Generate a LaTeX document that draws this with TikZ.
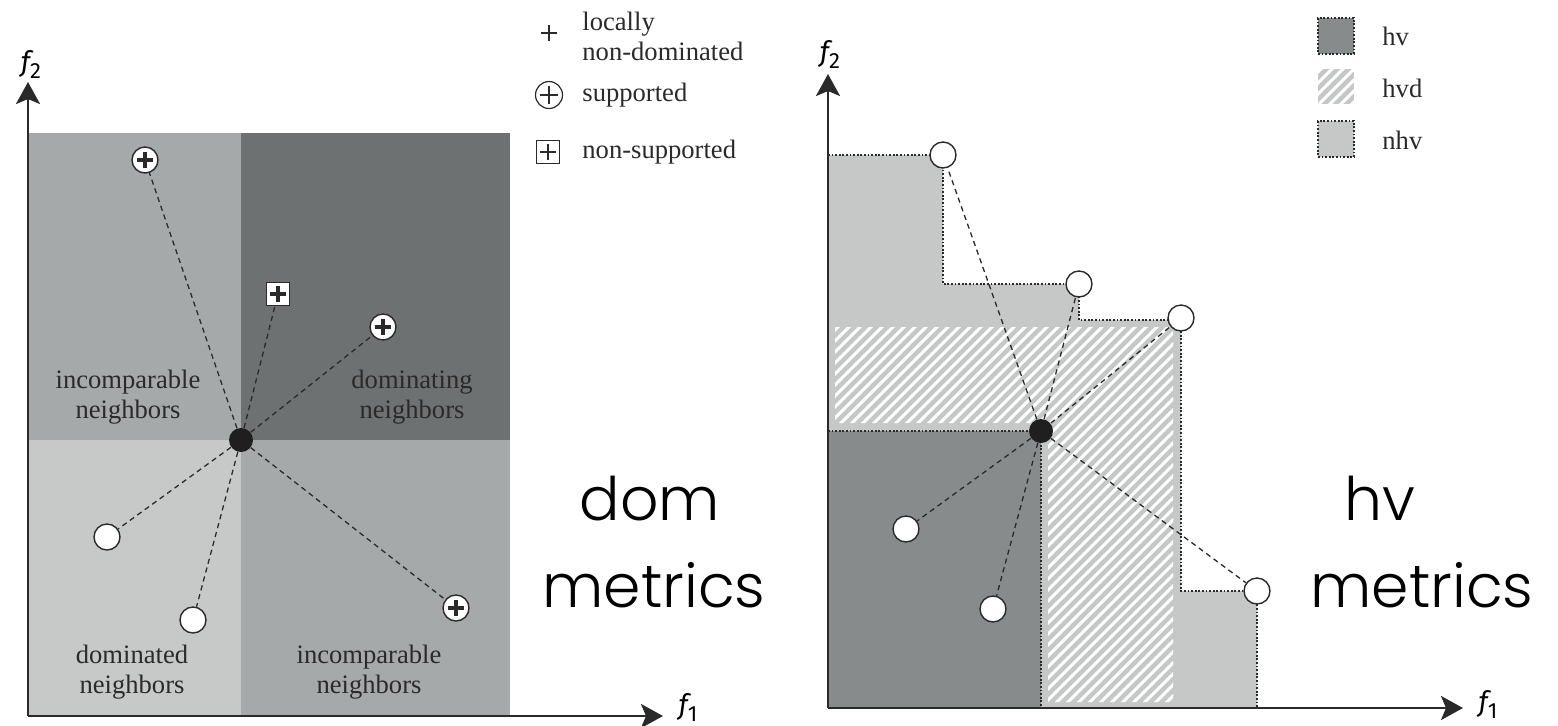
\documentclass[tikz,border=0pt]{standalone}
\usepackage{fontspec}
\setmainfont{Liberation Serif}
\newfontfamily\bigsans{Poppins Light}
\newfontfamily\axfont{Fira Sans}
\usetikzlibrary{arrows.meta}
\definecolor{qtl}{HTML}{A6A9AA}
\definecolor{qtr}{HTML}{6E7171}
\definecolor{qbl}{HTML}{C7C8C8}
\definecolor{hvc}{HTML}{888B8C}
\definecolor{nhvc}{HTML}{C6C7C7}
\definecolor{linec}{HTML}{2A2A2A}
\tikzset{
 axis/.style={line width=1.3pt, draw=linec, -{Stealth[length=11pt,width=12pt,inset=2.5pt]}},
 nb/.style={dash pattern=on 2.6pt off 2pt, line width=0.65pt, draw=linec},
 bound/.style={dash pattern=on 0.9pt off 0.9pt, line width=0.6pt, draw=linec},
 opt/.style={circle, draw=linec, fill=white, line width=0.7pt, minimum size=13pt, inner sep=0pt},
 cur/.style={circle, fill=black!88, minimum size=12pt, inner sep=0pt},
 sq/.style={rectangle, draw=linec, fill=white, line width=0.7pt, minimum size=11.5pt, inner sep=0pt},
 lbl/.style={font=\fontsize{13.3}{15}\selectfont, align=center, text=linec, inner sep=0pt},
 big/.style={font=\bigsans\fontsize{30}{34}\selectfont, anchor=base, inner sep=0pt},
 axl/.style={font=\axfont\fontsize{14}{16}\selectfont, inner sep=0pt},
 hatchline/.style={white, line width=1.5pt},
}
\newcommand\plusmark[3][1.6pt]{\draw[line width=#1, draw=linec] ([xshift=-#3]#2) -- ([xshift=#3]#2); \draw[line width=#1, draw=linec] ([yshift=-#3]#2) -- ([yshift=#3]#2);}
\newcommand\flab[1]{{\itshape f}\raisebox{-0.25em}{\fontsize{11}{12}\selectfont #1}}
\begin{document}
\begin{tikzpicture}[x=0.5pt,y=-0.5pt]
\useasboundingbox (0,0) rectangle (1558,725);
% ---------------- left panel ----------------
\fill[qtl] (28,133) rectangle (241,440);
\fill[qtr] (241,133) rectangle (510,440);
\fill[qbl] (28,440) rectangle (241,716);
\fill[qtl] (241,440) rectangle (510,716);
\node[lbl] (lin1) at (128,397) {incomparable\\neighbors};
\node[lbl] (ldom) at (412,397) {dominating\\neighbors};
\node[lbl] (lded) at (132,672) {dominated\\neighbors};
\node[lbl] (lin2) at (369,672) {incomparable\\neighbors};
\node[cur] (c1) at (241,440) {};
\node[opt] (a1) at (145,160) {};
\node[sq]  (a2) at (278,294) {};
\node[opt] (a3) at (383,327) {};
\node[opt] (a4) at (456,608) {};
\node[opt] (a5) at (107,537) {};
\node[opt] (a6) at (193,620) {};
\foreach \p in {a1,a2,a3,a4,a5,a6} \draw[nb] (c1) -- (\p);
\draw[axis] (28,716) -- (28,82);
\draw[axis] (28,716) -- (663,716);
\node[axl] (f2a) at (31,64) {\flab{2}};
\node[axl] (f1a) at (688,707) {\flab{1}};
\plusmark{a1.center}{4.2pt}
\plusmark{a2.center}{3.9pt}
\plusmark{a3.center}{4.2pt}
\plusmark{a4.center}{4.2pt}
% legend left
\coordinate (lg1) at (549,33);
\plusmark[1.3pt]{lg1}{4pt}
\node[lbl, anchor=west, align=left] (lt1) at (582,36) {locally\\non-dominated};
\node[circle, draw=linec, line width=0.6pt, minimum size=13.5pt, inner sep=0pt] (lg2) at (549,95) {};
\plusmark[1.3pt]{lg2.center}{4.5pt}
\node[lbl, anchor=west] (lt2) at (582,95) {supported};
\node[rectangle, draw=linec, line width=0.6pt, minimum size=11.5pt, inner sep=0pt] (lg3) at (548,152) {};
\plusmark[1.3pt]{lg3.center}{4pt}
\node[lbl, anchor=west] (lt3) at (582,152) {non-supported};
\node[big] (dom) at (650,520) {dom};
\node[big] (met1) at (654,607) {metrics};
% ---------------- right panel ----------------
\fill[nhvc] (828,155) -- (943,155) -- (943,284) -- (1079,284) -- (1079,320) -- (1181,320) -- (1181,591) -- (1257,591) -- (1257,708) -- (828,708) -- cycle;
\fill[hvc] (828,431) rectangle (1041,708);
\begin{scope}
\clip (835,327) -- (1173,327) -- (1173,702) -- (1048,702) -- (1048,423) -- (835,423) -- cycle;
\foreach \i in {0,11,...,820} \draw[hatchline] (455+\i,710) -- ++(420,-420);
\end{scope}
\draw[bound] (828,155) -- (943,155) -- (943,284) -- (1079,284) -- (1079,320) -- (1181,320) -- (1181,591) -- (1257,591) -- (1257,708);
\draw[bound] (828,431) -- (1041,431) -- (1041,708);
\node[cur] (c2) at (1041,431) {};
\node[opt] (b1) at (943,155) {};
\node[opt] (b2) at (1079,284) {};
\node[opt] (b3) at (1181,318) {};
\node[opt] (b4) at (1257,591) {};
\node[opt] (b5) at (906,529) {};
\node[opt] (b6) at (993,609) {};
\foreach \p in {b1,b2,b3,b4,b5,b6} \draw[nb] (c2) -- (\p);
\draw[axis] (828,708) -- (828,74);
\draw[axis] (828,708) -- (1463,708);
\node[axl] (f2b) at (830,54) {\flab{2}};
\node[axl] (f1b) at (1488,704) {\flab{1}};
% legend right
\node[rectangle, fill=hvc, draw=linec, bound, minimum size=18pt, inner sep=0pt] (k1) at (1336,36) {};
\fill[nhvc] (1318,69) rectangle (1354,104);
\begin{scope}
\clip (1318,69) rectangle (1354,104);
\foreach \i in {0,11,...,88} \draw[hatchline] (1280+\i,110) -- ++(60,-60);
\end{scope}
\coordinate (k2) at (1336,87);
\node[rectangle, fill=nhvc, draw=linec, bound, minimum size=18pt, inner sep=0pt] (k3) at (1336,139) {};
\node[lbl, anchor=west] (kt1) at (1382,36) {hv};
\node[lbl, anchor=west] (kt2) at (1382,88) {hvd};
\node[lbl, anchor=west] (kt3) at (1382,140) {nhv};
\node[big] (hv) at (1380,520) {hv};
\node[big] (met2) at (1422,607) {metrics};
\end{tikzpicture}
\end{document}
